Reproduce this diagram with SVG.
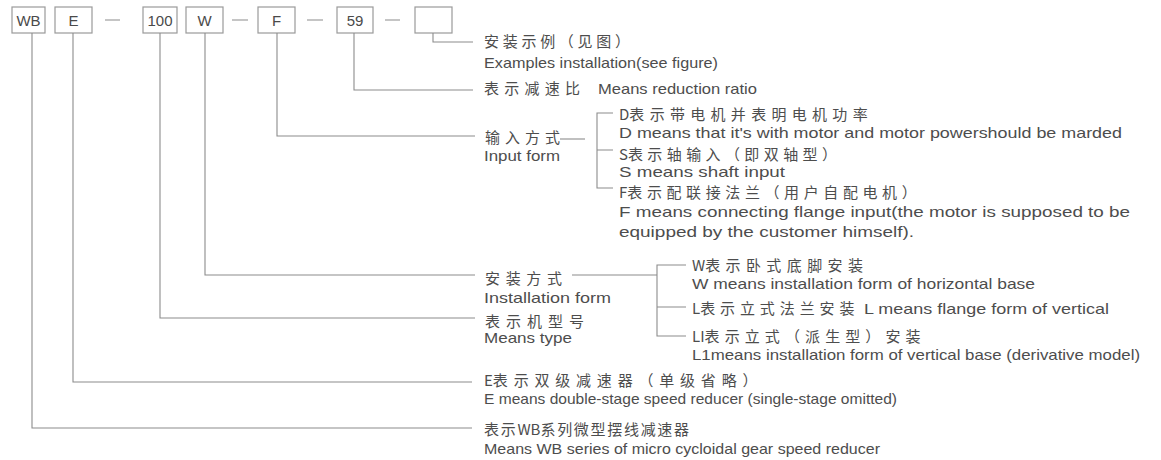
<svg xmlns="http://www.w3.org/2000/svg" width="1161" height="460" viewBox="0 0 1161 460">
<style>
.bg{fill:#ffffff}
.box{fill:#ffffff;stroke:#9a9a9a;stroke-width:1.2}
.code{font-family:"Liberation Sans",Arial,sans-serif;font-size:15px;fill:#4a4a4a;text-anchor:middle}
.ln{fill:none;stroke:#8c8c8c;stroke-width:1.1}
.cn{font-family:"Noto Sans CJK SC","Noto Sans",sans-serif;font-size:15px;fill:#4d4d4d}
.en{font-family:"Liberation Sans",Arial,sans-serif;font-size:15px;fill:#4d4d4d}
</style>
<rect class="bg" x="0" y="0" width="1161" height="460"/>

<g id="code-boxes">
  <g id="box-WB"><rect class="box" x="12" y="7" width="33" height="26"/><text class="code" x="28.5" y="25.5">WB</text></g>
  <g id="box-E"><rect class="box" x="55" y="7" width="37" height="26"/><text class="code" x="73.5" y="25.5">E</text></g>
  <g id="box-100"><rect class="box" x="143" y="7" width="34" height="26"/><text class="code" x="160" y="25.5">100</text></g>
  <g id="box-W"><rect class="box" x="186" y="7" width="37" height="26"/><text class="code" x="204.5" y="25.5">W</text></g>
  <g id="box-F"><rect class="box" x="258" y="7" width="37" height="26"/><text class="code" x="276.5" y="25.5">F</text></g>
  <g id="box-59"><rect class="box" x="337" y="7" width="36" height="26"/><text class="code" x="355" y="25.5">59</text></g>
  <g id="box-empty"><rect class="box" x="415" y="7" width="37" height="26"/></g>
  <g id="dashes">
    <path class="ln" d="M105 20H120M232 20H248M307 20H323M385 20H400"/>
  </g>
</g>

<g id="connectors">
  <path class="ln" d="M433 33V42H473"/>
  <path class="ln" d="M354 33V90H473"/>
  <path class="ln" d="M277 33V136H475"/>
  <path class="ln" d="M560 139H585"/>
  <path class="ln" d="M613 113H597V188H613M597 150H613"/>
  <path class="ln" d="M205 33V275H475"/>
  <path class="ln" d="M572 275H657"/>
  <path class="ln" d="M686 265H657V336H686M657 307H686"/>
  <path class="ln" d="M160 33V318H475"/>
  <path class="ln" d="M73 33V382H472"/>
  <path class="ln" d="M32 33V428H472"/>
</g>

<g id="node-example">
  <text class="cn" x="484" y="47" textLength="146" lengthAdjust="spacing">安装示例（见图）</text>
  <text class="en" x="484" y="68" textLength="234" lengthAdjust="spacingAndGlyphs">Examples installation(see figure)</text>
</g>

<g id="node-ratio">
  <text class="cn" x="484" y="94" textLength="96" lengthAdjust="spacing">表示减速比</text>
  <text class="en" x="598" y="94" textLength="159" lengthAdjust="spacingAndGlyphs">Means reduction ratio</text>
</g>

<g id="node-input">
  <text class="cn" x="485" y="143" textLength="75" lengthAdjust="spacing">输入方式</text>
  <text class="en" x="484" y="161" textLength="76" lengthAdjust="spacingAndGlyphs">Input form</text>
</g>

<g id="node-input-D">
  <text class="cn" x="619" y="120">D<tspan letter-spacing="5.3">表示带电机并表明电机功率</tspan></text>
  <text class="en" x="619" y="138" textLength="503" lengthAdjust="spacingAndGlyphs">D means that it's with motor and motor powershould be marded</text>
</g>
<g id="node-input-S">
  <text class="cn" x="619" y="160">S<tspan letter-spacing="4.4">表示轴输入（即双轴型）</tspan></text>
  <text class="en" x="619" y="177" textLength="166" lengthAdjust="spacingAndGlyphs">S means shaft input</text>
</g>
<g id="node-input-F">
  <text class="cn" x="619" y="198">F<tspan letter-spacing="4.6">表示配联接法兰（用户自配电机）</tspan></text>
  <text class="en" x="619" y="217" textLength="511" lengthAdjust="spacingAndGlyphs">F means connecting flange input(the motor is supposed to be</text>
  <text class="en" x="619" y="237" textLength="295" lengthAdjust="spacingAndGlyphs">equipped by the customer himself).</text>
</g>

<g id="node-install">
  <text class="cn" x="485" y="284" textLength="77" lengthAdjust="spacing">安装方式</text>
  <text class="en" x="484" y="303" textLength="127" lengthAdjust="spacingAndGlyphs">Installation form</text>
</g>

<g id="node-install-W">
  <text class="cn" x="692" y="271">W<tspan letter-spacing="5.4">表示卧式底脚安装</tspan></text>
  <text class="en" x="692" y="289" textLength="343" lengthAdjust="spacingAndGlyphs">W means installation form of horizontal base</text>
</g>
<g id="node-install-L">
  <text class="cn" x="692" y="314">L<tspan letter-spacing="4.9">表示立式法兰安装</tspan></text>
  <text class="en" x="864" y="314" textLength="245" lengthAdjust="spacingAndGlyphs">L means flange form of vertical</text>
</g>
<g id="node-install-LI">
  <text class="cn" x="692" y="342">LI<tspan letter-spacing="5.1">表示立式（派生型）安装</tspan></text>
  <text class="en" x="692" y="360" textLength="448" lengthAdjust="spacingAndGlyphs">L1means installation form of vertical base (derivative model)</text>
</g>

<g id="node-type">
  <text class="cn" x="485" y="327" textLength="99" lengthAdjust="spacing">表示机型号</text>
  <text class="en" x="484" y="343" textLength="88" lengthAdjust="spacingAndGlyphs">Means type</text>
</g>

<g id="node-E">
  <text class="cn" x="484" y="386">E<tspan letter-spacing="5.8">表示双级减速器（单级省略）</tspan></text>
  <text class="en" x="484" y="404" textLength="413" lengthAdjust="spacingAndGlyphs">E means double-stage speed reducer (single-stage omitted)</text>
</g>

<g id="node-WB">
  <text class="cn" x="484" y="435"><tspan letter-spacing="1.7">表示</tspan>WB<tspan letter-spacing="1.7">系列微型摆线减速器</tspan></text>
  <text class="en" x="484" y="454" textLength="396" lengthAdjust="spacingAndGlyphs">Means WB series of micro cycloidal gear speed reducer</text>
</g>
</svg>
